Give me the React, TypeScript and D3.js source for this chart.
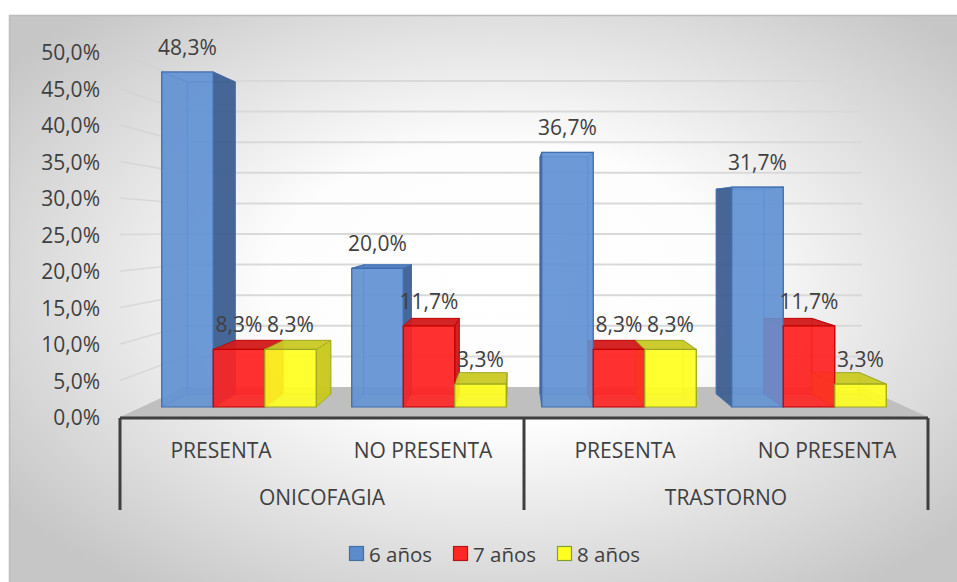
import React from 'react';
import * as d3 from 'd3';

// ---------- data ----------
const categories = ['PRESENTA', 'NO PRESENTA', 'PRESENTA', 'NO PRESENTA'];
const groupLabels = ['ONICOFAGIA', 'TRASTORNO'];
const seriesNames = ['6 años', '7 años', '8 años'];
const values6 = [48.3, 20.0, 36.7, 31.7];
const values7 = [8.3, 11.7, 8.3, 11.7];
const values8 = [8.3, 3.3, 8.3, 3.3];
const yTicks = [0, 5, 10, 15, 20, 25, 30, 35, 40, 45, 50];

const seriesValues = [values6, values7, values8];

// ---------- styling ----------
const palette = [
  { front: '#6393d4', side: '#3f6191', top: '#4f7dbf', stroke: '#3f6db0', legend: '#5b8bcb', legendStroke: '#41719c' },
  { front: '#ff2222', side: '#cc1a1a', top: '#d21c1c', stroke: '#c00000', legend: '#ff2626', legendStroke: '#b01818' },
  { front: '#ffff22', side: '#c8c81e', top: '#c9c927', stroke: '#9ca622', legend: '#ffff22', legendStroke: '#7f9f2f' },
];
const FONT = '"Open Sans", "DejaVu Sans", sans-serif';
const TEXT = '#404040';

// ---------- projection planes (screen-space layout of the 3D box) ----------
type Plane = { xL: number; xR: number; y0: number; yTop: number };
const planeFront: Plane = { xL: 120, xR: 928, y0: 417, yTop: 52 }; // floor front edge
const planeBarFront: Plane = { xL: 144, xR: 904, y0: 407, yTop: 60.2 };
const planeBarBack: Plane = { xL: 171, xR: 876, y0: 394, yTop: 71 };
const planeBack: Plane = { xL: 185, xR: 862, y0: 387, yTop: 81 };

const valueDomain: [number, number] = [0, 50];

function proj(p: Plane, u: number, v: number): [number, number] {
  const xs = d3.scaleLinear().domain([0, 1]).range([p.xL, p.xR]);
  const ys = d3.scaleLinear().domain(valueDomain).range([p.y0, p.yTop]);
  return [xs(u), ys(v)];
}

const pts = (arr: [number, number][]) => arr.map((p) => p.join(',')).join(' ');
const fmt = (v: number) => d3.format('.1f')(v).replace('.', ',') + '%';

export default function App() {
  const W = 957;
  const H = 582;

  const xBand = d3
    .scaleBand<number>()
    .domain(d3.range(categories.length))
    .range([0, 1])
    .paddingInner(0.187)
    .paddingOuter(0.0935);
  const sBand = d3.scaleBand<number>().domain(d3.range(seriesNames.length)).range([0, xBand.bandwidth()]);
  const catBand = d3.scaleBand<number>().domain(d3.range(categories.length)).range([0, 1]);
  const grpBand = d3.scaleBand<number>().domain(d3.range(groupLabels.length)).range([0, 1]);

  type Bar = {
    key: string;
    s: number;
    v: number;
    F: [number, number][];
    B: [number, number][];
  };
  const bars: Bar[] = [];
  categories.forEach((_, gi) => {
    seriesNames.forEach((_, si) => {
      const v = seriesValues[si][gi];
      const u0 = (xBand(gi) as number) + (sBand(si) as number);
      const u1 = u0 + sBand.bandwidth();
      const F = [proj(planeBarFront, u0, 0), proj(planeBarFront, u1, 0), proj(planeBarFront, u1, v), proj(planeBarFront, u0, v)];
      const B = [proj(planeBarBack, u0, 0), proj(planeBarBack, u1, 0), proj(planeBarBack, u1, v), proj(planeBarBack, u0, v)];
      bars.push({ key: `${gi}-${si}`, s: si, v, F, B });
    });
  });

  const backLayer: React.ReactNode[] = [];
  const sideLayer: React.ReactNode[] = [];
  const topLayer: React.ReactNode[] = [];
  const frontLayer: React.ReactNode[] = [];
  const labelLayer: React.ReactNode[] = [];

  bars.forEach((b) => {
    const c = palette[b.s];
    const [FL, FR, FTR, FTL] = b.F;
    const [BL, BR, BTR, BTL] = b.B;
    backLayer.push(
      <polygon key={'bk' + b.key} points={pts([BL, BR, BTR, BTL])} fill={c.front} fillOpacity={0.35} stroke={c.stroke} strokeWidth={1} strokeOpacity={0.7} />
    );
    const leftVisible = BTL[0] < FTL[0];
    const rightVisible = BTR[0] > FTR[0];
    const topVisible = BTL[1] < FTL[1];
    const left = <polygon key={'l' + b.key} points={pts([FL, FTL, BTL, BL])} fill={c.side} fillOpacity={leftVisible ? 0.95 : 0.25} stroke={c.stroke} strokeWidth={1} strokeOpacity={0.8} />;
    const right = <polygon key={'r' + b.key} points={pts([FR, FTR, BTR, BR])} fill={c.side} fillOpacity={rightVisible ? 0.95 : 0.25} stroke={c.stroke} strokeWidth={1} strokeOpacity={0.8} />;
    if (leftVisible) sideLayer.push(left); else backLayer.push(left);
    if (rightVisible) sideLayer.push(right); else backLayer.push(right);
    const top = <polygon key={'t' + b.key} points={pts([FTL, FTR, BTR, BTL])} fill={c.top} fillOpacity={topVisible ? 0.95 : 0.2} stroke={c.stroke} strokeWidth={1} strokeOpacity={0.8} />;
    if (topVisible) topLayer.push(top); else backLayer.push(top);
    frontLayer.push(
      <polygon key={'f' + b.key} points={pts([FL, FR, FTR, FTL])} fill={c.front} fillOpacity={0.9} stroke={c.stroke} strokeWidth={1.2} />
    );
    labelLayer.push(
      <text key={'lb' + b.key} x={(FTL[0] + FTR[0]) / 2} y={FTL[1] - 25} textAnchor="middle" dominantBaseline="central" fontFamily={FONT} fontSize={21} fill={TEXT}>
        {fmt(b.v)}
      </text>
    );
  });

  // floor & walls
  const floor = [proj(planeFront, 0, 0), proj(planeFront, 1, 0), proj(planeBack, 1, 0), proj(planeBack, 0, 0)];
  const gridTicks = yTicks.filter((t) => t > 0);

  const frameY = 418;
  const frameBottom = 510;
  const fx = (u: number) => proj(planeFront, u, 0)[0];

  const legendX = [349, 453, 557];

  return (
    <svg width={W} height={H} style={{ position: 'absolute', left: 0, top: 0 }} xmlns="http://www.w3.org/2000/svg">
      <defs>
        <radialGradient id="bg" cx="50%" cy="45%" r="62%">
          <stop offset="0" stopColor="#ffffff" />
          <stop offset="0.38" stopColor="#fdfdfd" />
          <stop offset="1" stopColor="#c6c6c6" />
        </radialGradient>
      </defs>
      <rect x={0} y={0} width={W} height={H} fill="#ffffff" />
      <rect x={9.5} y={15.5} width={W + 20} height={H + 20} fill="url(#bg)" stroke="#bdbdbd" strokeWidth={1.5} />

      {/* left wall gridlines */}
      {gridTicks.map((t) => {
        const a = proj(planeFront, 0, t);
        const b = proj(planeBack, 0, t);
        return <line key={'lw' + t} x1={a[0]} y1={a[1]} x2={b[0]} y2={b[1]} stroke="#d2d2d2" strokeWidth={1.5} opacity={0.7} />;
      })}
      {/* back wall gridlines */}
      {gridTicks.map((t) => {
        const a = proj(planeBack, 0, t);
        const b = proj(planeBack, 1, t);
        return <line key={'bw' + t} x1={a[0]} y1={a[1]} x2={b[0]} y2={b[1]} stroke="#d9d9d9" strokeWidth={2} />;
      })}
      {/* floor */}
      <polygon points={pts(floor)} fill="#bfbfbf" />

      {/* y axis labels */}
      {yTicks.map((t) => (
        <text key={'yt' + t} x={100} y={proj(planeFront, 0, t)[1]} textAnchor="end" dominantBaseline="central" fontFamily={FONT} fontSize={21} fill={TEXT}>
          {fmt(t)}
        </text>
      ))}

      {/* bars */}
      <g>{backLayer}</g>
      <g>{sideLayer}</g>
      <g>{topLayer}</g>
      <g>{frontLayer}</g>
      <g>{labelLayer}</g>

      {/* category axis frame */}
      <g stroke="#3f3f3f" strokeWidth={3} fill="none">
        <line x1={fx(0)} y1={frameY} x2={fx(1)} y2={frameY} />
        {[0, 0.5, 1].map((u) => (
          <line key={'fv' + u} x1={fx(u)} y1={frameY} x2={fx(u)} y2={frameBottom} />
        ))}
      </g>
      {categories.map((c, i) => (
        <text key={'cat' + i} x={fx((catBand(i) as number) + catBand.bandwidth() / 2)} y={450} textAnchor="middle" dominantBaseline="central" fontFamily={FONT} fontSize={21} fill={TEXT}>
          {c}
        </text>
      ))}
      {groupLabels.map((g, i) => (
        <text key={'grp' + i} x={fx((grpBand(i) as number) + grpBand.bandwidth() / 2)} y={497} textAnchor="middle" dominantBaseline="central" fontFamily={FONT} fontSize={21} fill={TEXT}>
          {g}
        </text>
      ))}

      {/* legend */}
      {seriesNames.map((s, i) => (
        <g key={'lg' + i}>
          <rect x={legendX[i] + 0.5} y={546.5} width={14} height={14} fill={palette[i].legend} stroke={palette[i].legendStroke} strokeWidth={1.2} />
          <text x={legendX[i] + 20} y={553.5} dominantBaseline="central" fontFamily={FONT} fontSize={20.5} fill={TEXT}>
            {s}
          </text>
        </g>
      ))}
    </svg>
  );
}
